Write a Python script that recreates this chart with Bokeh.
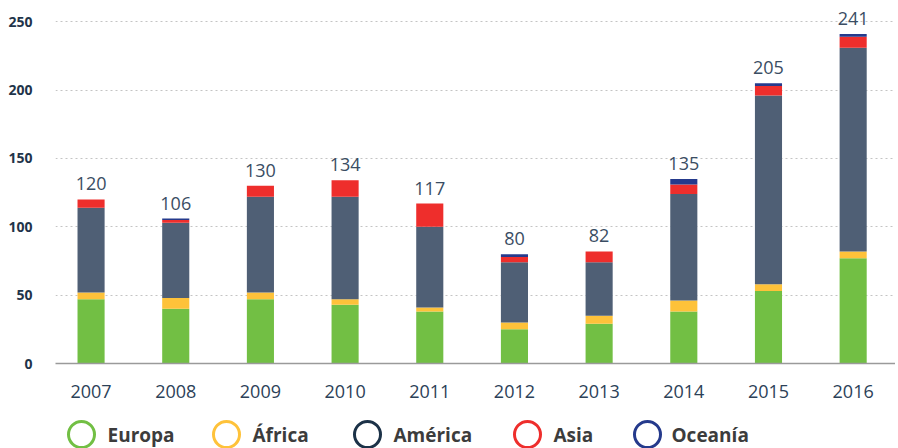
from bokeh.plotting import figure
from bokeh.models import ColumnDataSource, Range1d, FixedTicker, LabelSet
from bokeh.layouts import column
from bokeh.embed import file_html
from bokeh.resources import INLINE
from bokeh.core.properties import value

years = ["2007", "2008", "2009", "2010", "2011", "2012", "2013", "2014", "2015", "2016"]
europa = [47, 40, 47, 43, 38, 25, 29, 38, 53, 77]
africa = [5, 8, 5, 4, 3, 5, 6, 8, 5, 5]
america = [62, 55, 70, 75, 59, 44, 39, 78, 138, 149]
asia = [6, 2, 8, 12, 17, 4, 8, 7, 7, 8]
oceania = [0, 1, 0, 0, 0, 2, 0, 4, 2, 2]
totals = [120, 106, 130, 134, 117, 80, 82, 135, 205, 241]
series = ["Europa", "África", "América", "Asia", "Oceanía"]
y_ticks = [0, 50, 100, 150, 200, 250]

bar_colors = ["#72bf44", "#fec23a", "#4f5f75", "#ee2e2c", "#253a8c"]
legend_colors = ["#72bf44", "#fec23a", "#1c3248", "#ee2e2c", "#253a8c"]

data = dict(x=list(range(len(years))), total=totals, label=[str(t) for t in totals])
for name, vals in zip(series, [europa, africa, america, asia, oceania]):
    data[name] = vals
src = ColumnDataSource(data)

FRAME_W = 840
FRAME_LEFT = 55  # page x of frame's left edge (layout constant)

p = figure(frame_width=FRAME_W, frame_height=355, output_backend="svg", toolbar_location=None,
           x_range=Range1d(-0.42, 9.5), y_range=Range1d(0, 259.7),
           min_border_left=FRAME_LEFT, min_border_right=0, min_border_top=8, min_border_bottom=45)
p.outline_line_color = None
p.background_fill_color = "white"

p.vbar_stack(series, x="x", width=0.32, source=src, color=bar_colors,
             line_color=None)

labels = LabelSet(x="x", y="total", text="label", source=src, y_offset=9,
                  text_align="center", text_baseline="alphabetic",
                  text_font=value("Open Sans"), text_font_size="18px",
                  text_color="#3a4d63")
p.add_layout(labels)

p.xgrid.grid_line_color = None
p.ygrid.grid_line_color = "#c4c4c4"
p.ygrid.grid_line_dash = "2 3"
p.ygrid.grid_line_width = 1
p.ygrid.ticker = FixedTicker(ticks=y_ticks[1:])

p.yaxis.ticker = FixedTicker(ticks=y_ticks)
p.yaxis.axis_line_color = None
p.yaxis.major_tick_line_color = None
p.yaxis.minor_tick_line_color = None
p.yaxis.major_label_text_font = "Open Sans"
p.yaxis.major_label_text_font_style = "bold"
p.yaxis.major_label_text_font_size = "14px"
p.yaxis.major_label_text_color = "#1f344a"
p.yaxis.major_label_standoff = 17

p.xaxis.ticker = FixedTicker(ticks=list(range(len(years))))
p.xaxis.major_label_overrides = {i: y for i, y in enumerate(years)}
p.xaxis.axis_line_color = "#9a9a9a"
p.xaxis.axis_line_width = 1.5
p.xaxis.major_tick_line_color = None
p.xaxis.minor_tick_line_color = None
p.xaxis.major_label_text_font = "Open Sans"
p.xaxis.major_label_text_font_size = "18px"
p.xaxis.major_label_text_color = "#2c4158"
p.xaxis.major_label_standoff = 15

# Legend strip (x in page pixels; frame aligned with main plot's frame)
leg = figure(frame_width=FRAME_W, height=40, output_backend="svg", toolbar_location=None,
             x_range=Range1d(FRAME_LEFT, FRAME_LEFT + FRAME_W), y_range=Range1d(0, 40),
             min_border_left=FRAME_LEFT, min_border_right=0, min_border_top=0, min_border_bottom=0)
leg.outline_line_color = None
leg.axis.visible = False
leg.grid.visible = False
circle_x = [81, 226, 367, 527, 647]
text_x = [107, 252, 393, 553, 671]
leg.scatter(x=circle_x, y=[14] * 5, size=26, fill_color=None,
            line_color=legend_colors, line_width=3)
leg.text(x=text_x, y=[14] * 5, text=series, text_font=value("Open Sans"),
         text_font_size="19px", text_font_style="bold", text_color="#3c3c3c",
         text_baseline="middle", text_align="left")

layout = column(p, leg, spacing=0)
open("out.html", "w").write(file_html(layout, INLINE))
